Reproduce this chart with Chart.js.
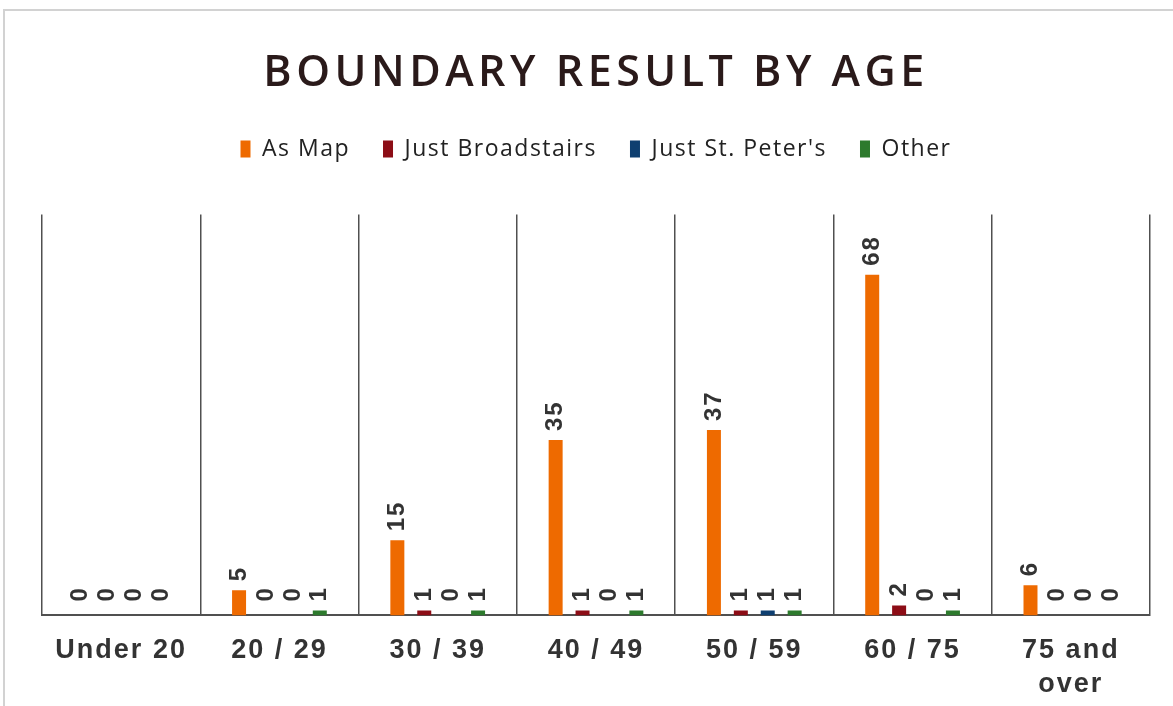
<!DOCTYPE html>
<html>
<head>
<meta charset="utf-8">
<script src="https://cdn.jsdelivr.net/npm/chart.js@4.4.1/dist/chart.umd.min.js"></script>
<style>
  html, body { margin:0; padding:0; background:#fff; }
  #wrap { position:relative; width:1173px; height:706px; overflow:hidden; }
  #frame { position:absolute; left:3px; top:9px; width:1200px; height:800px;
           border-top:2px solid #d2d2d2; border-left:2px solid #d2d2d2; }
  #c { position:absolute; left:0; top:0; }
</style>
</head>
<body>
<div id="wrap">
  <div id="frame"></div>
  <canvas id="c" width="1173" height="706"></canvas>
</div>
<script>
const categories = ["Under 20", "20 / 29", "30 / 39", "40 / 49", "50 / 59", "60 / 75", ["75 and", "over"]];
const asMap = [0, 5, 15, 35, 37, 68, 6];
const justBroadstairs = [0, 0, 1, 1, 1, 2, 0];
const justStPeters = [0, 0, 0, 0, 1, 0, 0];
const other = [0, 1, 1, 1, 1, 1, 0];
const seriesNames = ["As Map", "Just Broadstairs", "Just St. Peter's", "Other"];
const seriesColors = ["#EE6A00", "#8C0D16", "#0E3F70", "#2D7A2D"];

const valueLabels = {
  id: 'valueLabels',
  afterDatasetsDraw(chart) {
    const ctx = chart.ctx;
    ctx.save();
    ctx.letterSpacing = '2px';
    ctx.font = 'bold 24px "Liberation Sans", Arial, sans-serif';
    ctx.fillStyle = '#333333';
    ctx.textAlign = 'left';
    ctx.textBaseline = 'middle';
    chart.data.datasets.forEach((ds, i) => {
      const meta = chart.getDatasetMeta(i);
      meta.data.forEach((bar, j) => {
        const v = ds.data[j];
        ctx.save();
        ctx.translate(bar.x, bar.y - (v === 0 ? 14 : 9));
        ctx.rotate(-Math.PI / 2);
        ctx.fillText(String(v), 0, 0);
        ctx.restore();
      });
    });
    ctx.restore();
  }
};

function withSpacing(obj, method, spacing) {
  const orig = obj[method];
  obj[method] = function () {
    const ctx = this.ctx;
    const prev = ctx.letterSpacing;
    ctx.letterSpacing = spacing;
    const r = orig.apply(this, arguments);
    ctx.letterSpacing = prev;
    return r;
  };
}

const spacingTweaks = {
  id: 'spacingTweaks',
  afterInit(chart) {
    withSpacing(chart.titleBlock, 'draw', '4.5px');
    const legend = chart.legend;
    withSpacing(legend, 'fit', '1.5px');
    withSpacing(legend, 'draw', '1.5px');
    const origFit = legend.fit;
    legend.fit = function () {
      origFit.apply(this, arguments);
      this.height += 44;
    };
  },
  afterLayout(chart) {
    const xs = chart.scales.x;
    if (xs && !xs._spacingPatched) {
      withSpacing(xs, 'drawLabels', '2px');
      xs._spacingPatched = true;
    }
  },
  beforeDraw(chart) { chart.ctx.letterSpacing = '0px'; }
};

const allSeries = [asMap, justBroadstairs, justStPeters, other];
const chart = new Chart(document.getElementById('c'), {
  type: 'bar',
  data: {
    labels: categories,
    datasets: allSeries.map((d, i) => ({
      label: seriesNames[i],
      data: d,
      backgroundColor: seriesColors[i],
      borderWidth: 0,
      categoryPercentage: 0.68,
      barPercentage: 0.52
    }))
  },
  options: {
    responsive: false,
    animation: false,
    layout: { padding: { left: 42, right: 23, top: 48, bottom: -14 } },
    plugins: {
      tooltip: { enabled: false },
      title: {
        display: true,
        text: 'BOUNDARY RESULT BY AGE',
        color: '#2a1a1a',
        font: { family: '"Open Sans", sans-serif', size: 43, weight: '600' },
        padding: { top: 0, bottom: 5 }
      },
      legend: {
        display: true,
        labels: {
          color: '#222',
          font: { family: '"Open Sans", sans-serif', size: 23 },
          boxWidth: 10,
          boxHeight: 17,
          padding: 33
        }
      }
    },
    scales: {
      x: {
        grid: { display: true, offset: true, color: '#505050', lineWidth: 1.5, drawTicks: false, tickLength: 0 },
        border: { display: true, color: '#505050', width: 2 },
        ticks: {
          color: '#333333',
          padding: 18,
          font: { family: '"Liberation Sans", Arial, sans-serif', size: 27, weight: 'bold', lineHeight: 1.27 },
          maxRotation: 0
        }
      },
      y: {
        display: false,
        min: 0,
        max: 80
      }
    }
  },
  plugins: [spacingTweaks, valueLabels]
});
</script>
</body>
</html>
